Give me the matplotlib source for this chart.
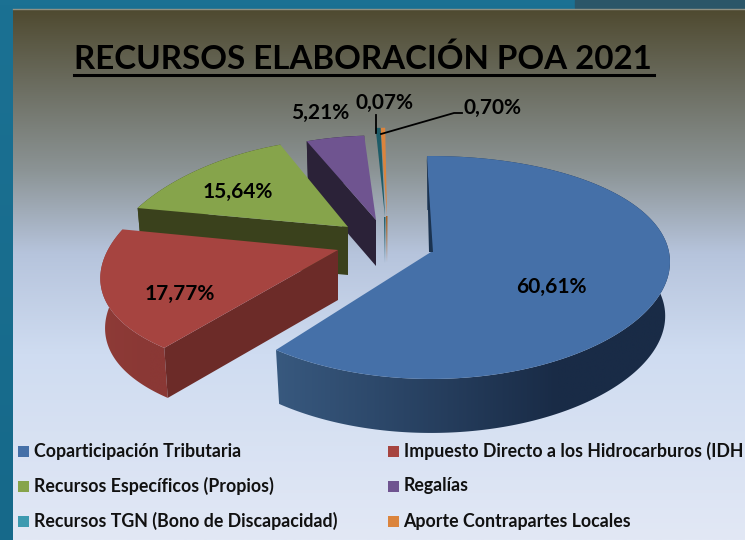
import numpy as np
import matplotlib.pyplot as plt
from matplotlib.colors import LinearSegmentedColormap
from matplotlib.patches import Polygon, Rectangle

plt.rcParams["font.family"] = ["Lato", "DejaVu Sans"]

categories = ["Coparticipación Tributaria", "Impuesto Directo a los Hidrocarburos (IDH",
              "Recursos Específicos (Propios)", "Regalías",
              "Recursos TGN (Bono de Discapacidad)", "Aporte Contrapartes Locales"]
shares = [60.61, 17.77, 15.64, 5.21, 0.07, 0.70]
colors = ["#4570a8", "#a64440", "#86a44b", "#6f5490", "#3d9ab0", "#db843d"]

# pixel layout of the exploded wedges
apex = [(431, 252), (338, 250), (348, 227), (376, 220), (385, 217), (387, 216)]
scale_x = [1.0, 0.967, 0.955, 0.90, 0.50, 0.50]
scale_y = [1.0, 1.0, 0.92, 0.88, 0.92, 0.92]
persp_x = [0.09, 0.25, 0.31, 0.20, 0.14, 0.14]
depth = [54, 50, 48, 46, 46, 46]
side_left = ["#38597f", "#8e3b37", "#3a411c", "#2b2238", "#1e5c68", "#a8601f"]
side_right = ["#192b46", "#8a3835", "#3a411c", "#2b2238", "#1e5c68", "#a8601f"]
face_dark = [None, "#6c2b28", "#3a411c", "#2b2238", None, None]

label_pos = [(551, 287), (180, 294), (238, 192), (320, 113), (385, 103), (492, 108)]

RX, RY, PERSP = 238, 109.3, 0.139


def rim(i, theta):
    # theta in degrees clockwise from 12 o'clock, with some perspective
    t = np.radians(theta)
    x = apex[i][0] + RX * scale_x[i] * np.sin(t) / (1 + persp_x[i] * np.cos(t))
    y = apex[i][1] - RY * scale_y[i] * np.cos(t) / (1 + PERSP * np.cos(t))
    return x, y


def lower(i, x, y):
    return apex[i][0] + (x - apex[i][0]) * 0.98, y + depth[i]


def fmt(v):
    return f"{v:.2f}".replace(".", ",") + "%"


fig = plt.figure(figsize=(7.45, 5.4), dpi=100)
ax = fig.add_axes([0, 0, 1, 1])
ax.axis("off")

# slide background
band = LinearSegmentedColormap.from_list("band", ["#1b7193", "#16698a"])
ax.imshow(np.linspace(0, 1, 100)[:, None], cmap=band, extent=(0, 745, 540, 0),
          aspect="auto", zorder=0)
ax.add_patch(Rectangle((575, 0), 170, 8, color="#2b5668", zorder=0.5))
stops = [(0, "#4f4a30"), (0.13, "#696a5c"), (0.30, "#8b9394"), (0.46, "#b6c4dc"),
         (0.65, "#cfdcf1"), (1, "#e2e8f5")]
panel = LinearSegmentedColormap.from_list("panel", stops)
ax.imshow(np.linspace(0, 1, 256)[:, None], cmap=panel, extent=(13, 745, 540, 9),
          aspect="auto", zorder=1)
ax.plot([13, 745], [9, 9], color="#8f9184", lw=1, zorder=1.5)

# wedges, back to front
ends = np.cumsum(shares) / 100 * 360 - 1.0
starts = ends - np.array(shares) / 100 * 360
for i in [5, 4, 3, 2, 1, 0]:
    z = 3 + (5 - i)
    th = np.linspace(starts[i], ends[i], 240)
    x, y = rim(i, th)
    bx, by = lower(i, x, y)
    ax0, ay0 = apex[i]
    ab = lower(i, ax0, ay0)

    # outer wall: horizontal gradient clipped to the wall outline
    if i < 4:
        wall_cmap = LinearSegmentedColormap.from_list("wall", [side_left[i], side_right[i]])
        x0, x1 = min(x.min(), bx.min()) - 2, max(x.max(), bx.max()) + 2
        grad = np.clip(np.linspace(0, 1.4, 256), 0, 1)[None, :]
        im = ax.imshow(grad, cmap=wall_cmap, vmin=0, vmax=1, aspect="auto", zorder=z,
                       extent=(x0, x1, by.max() + 2, y.min() - 2))
        outline = Polygon(np.column_stack([np.r_[x, bx[::-1]], np.r_[y, by[::-1]]]),
                          transform=ax.transData)
        im.set_clip_path(outline)

    # cut face on the clockwise start edge
    if face_dark[i]:
        ax.add_patch(Polygon([(x[0], y[0]), (ax0, ay0), ab, (bx[0], by[0])],
                             color=face_dark[i], lw=0, zorder=z + 0.1))
    elif i >= 4:
        # thin wedges: a narrow tail below the tip
        ax.add_patch(Polygon([(ax0 - 1, ay0), (ax0 + 0.5, ay0), ab], color=side_left[i],
                             lw=0, zorder=z + 0.1))

    top = np.column_stack([np.r_[ax0, x], np.r_[ay0, y]])
    ax.add_patch(Polygon(top, color=colors[i], lw=0, zorder=z + 0.2))

    if i == 0:
        # sliver of dark wall showing along the first edge
        ax.add_patch(Polygon([(x[0] - 0.5, y[0]), (ax0 - 2, ay0), (ax0 + 2, ay0)],
                             color="#1b3350", lw=0, zorder=z + 0.3))
    if i == 4:
        # dark side of the teal and orange slivers
        ox, oy = rim(5, starts[5])
        ax.add_patch(Polygon([(ox, oy), (ox - 5, oy), (ax0, ay0)], color=side_left[4],
                             lw=0, zorder=z + 0.3))

# leader lines
ax.plot([375.5, 375.5], [115, 133], color="black", lw=1.3, zorder=12)
ax.plot([381, 454, 462], [134, 113, 113], color="black", lw=1.3, zorder=12)

# labels
for i, v in enumerate(shares):
    ax.text(label_pos[i][0], label_pos[i][1], fmt(v), fontsize=15, fontweight="bold",
            color="black", ha="center", va="center", zorder=13)

# title
ax.text(74, 59, "RECURSOS ELABORACIÓN POA 2021", fontsize=23.9, fontweight="bold",
        color="black", ha="left", va="center", zorder=13)
ax.plot([74, 654], [75, 75], color="black", lw=2.2, zorder=13)

# legend
legend_x = [18, 388]
legend_y = [451, 486, 521]
for i, name in enumerate(categories):
    lx, ly = legend_x[i % 2], legend_y[i // 2]
    ax.add_patch(Rectangle((lx, ly - 5), 11, 11, color=colors[i], lw=0, zorder=13))
    ax.text(lx + 15.5, ly, name, fontsize=12.8, fontweight="bold", color="#111111",
            ha="left", va="center", zorder=13)

ax.set_xlim(0, 745)
ax.set_ylim(540, 0)
fig.savefig("out.png", dpi=100)
